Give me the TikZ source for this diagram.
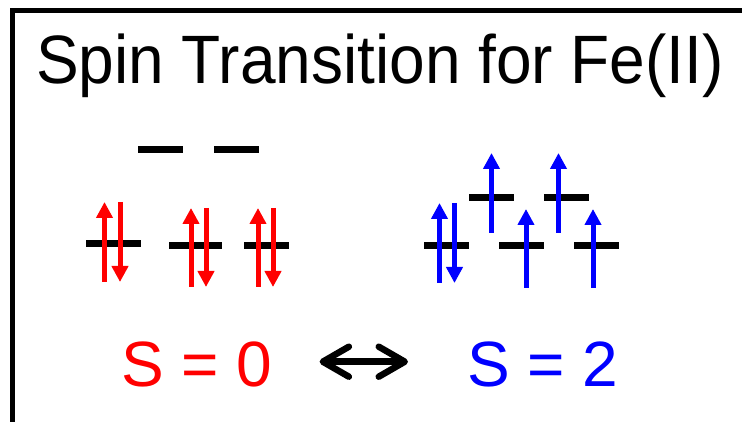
\documentclass[tikz,border=0pt]{standalone}
\usepackage{fontspec}
\setmainfont{Liberation Sans}
\usetikzlibrary{arrows.meta}
\tikzset{
  frame/.style={line width=5pt, line join=miter},
  level/.style={line width=7pt, black},
  spinred/.style={red, line width=5pt, -{Triangle[length=16pt,width=16pt]}},
  spinblue/.style={blue, line width=5pt, -{Triangle[length=16pt,width=16pt]}},
  title/.style={inner sep=0pt, anchor=base west, font=\fontsize{64}{70}\selectfont},
  spinlabel/.style={inner sep=0pt, anchor=base west, font=\fontsize{64}{70}\selectfont},
  dbl/.style={line width=6.5pt, {Straight Barb[length=26pt,width=30pt,round]}-{Straight Barb[length=26pt,width=30pt,round]}}
}
\begin{document}
\begin{tikzpicture}[x=1pt,y=-1pt]
\useasboundingbox (0,0) rectangle (742,422);
% frame
\draw[frame] (12,430) -- (12,10.5) -- (750,10.5);
% title
\node[title] (ttl) at (36,84) {\scalebox{1}[1.07]{Spin Transition for Fe(II)}};
% red levels (low spin)
\draw[level] (138,149.5) -- (183,149.5);
\draw[level] (214,149.5) -- (259,149.5);
\draw[level] (86,243.5) -- (141,243.5);
\draw[level] (169,245.5) -- (222,245.5);
\draw[level] (244,245.5) -- (289,245.5);
% red electrons
\draw[spinred] (104.5,282) -- (104.5,202);
\draw[spinred] (120,202) -- (120,282);
\draw[spinred] (191,287) -- (191,208);
\draw[spinred] (206,208) -- (206,287);
\draw[spinred] (258,287) -- (258,208);
\draw[spinred] (273,208) -- (273,287);
% blue levels (high spin)
\draw[level] (424,246) -- (469,246);
\draw[level] (499,246) -- (544,246);
\draw[level] (574,246) -- (619,246);
\draw[level] (469,198) -- (514,198);
\draw[level] (544,198) -- (589,198);
% blue electrons
\draw[spinblue] (439.5,283) -- (439.5,203);
\draw[spinblue] (454.5,203) -- (454.5,283);
\draw[spinblue] (491.5,233) -- (491.5,153);
\draw[spinblue] (558.5,233) -- (558.5,153);
\draw[spinblue] (526,288) -- (526,209);
\draw[spinblue] (593,288) -- (593,209);
% labels
\node[spinlabel, text=red] (s0) at (121,386) {S = 0};
\node[spinlabel, text=blue] (s2) at (467,386) {S = 2};
\coordinate (amid) at (364,361.7);
\draw[dbl, shorten <=47pt, shorten >=59pt] (s0.east |- amid) -- (s2.west |- amid);
\end{tikzpicture}
\end{document}
